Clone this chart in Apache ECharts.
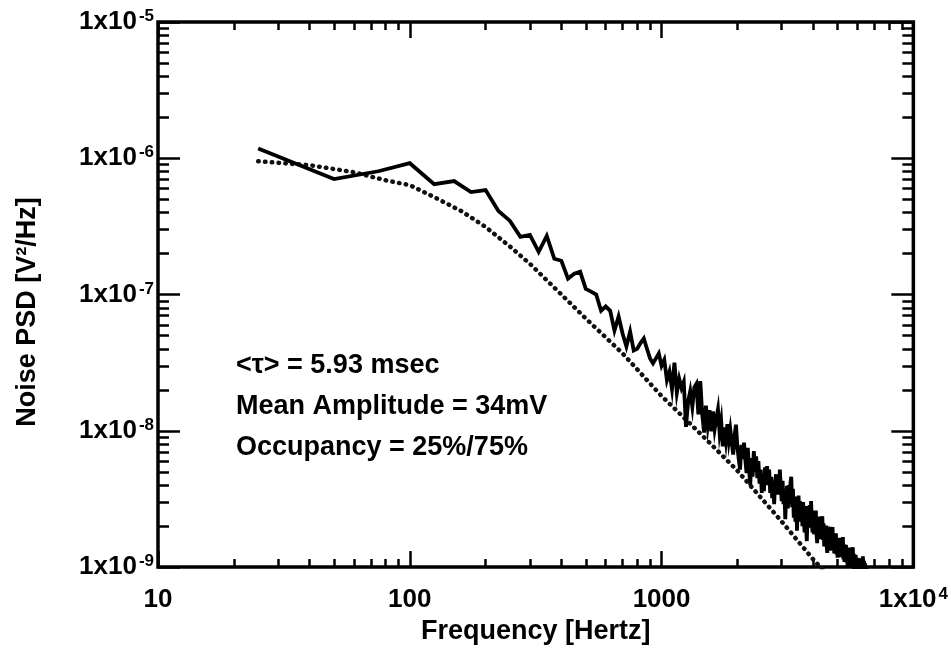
<!DOCTYPE html>
<html>
<head>
<meta charset="utf-8">
<script src="https://cdn.jsdelivr.net/npm/echarts@6/dist/echarts.min.js"></script>
<style>
  html, body { margin: 0; padding: 0; background: #fff; }
  #chart { width: 951px; height: 650px; }
</style>
</head>
<body>
<div id="chart"></div>
<script>
// ---------- data ----------
const freqHz = [
  25,50,75,100,125,150,175,200,225,250,275,300,325,350,375,400,425,450,475,500,
  525,550,575,600,625,650,675,700,725,750,775,800,825,850,875,900,925,950,975,1000,
  1025,1050,1075,1100,1125,1150,1175,1200,1225,1250,1275,1300,1325,1350,1375,1400,1425,1450,1475,1500,
  1525,1550,1575,1600,1625,1650,1675,1700,1725,1750,1775,1800,1825,1850,1875,1900,1925,1950,1975,2000,
  2025,2050,2075,2100,2125,2150,2175,2200,2225,2250,2275,2300,2325,2350,2375,2400,2425,2450,2475,2500,
  2525,2550,2575,2600,2625,2650,2675,2700,2725,2750,2775,2800,2825,2850,2875,2900,2925,2950,2975,3000,
  3025,3050,3075,3100,3125,3150,3175,3200,3225,3250,3275,3300,3325,3350,3375,3400,3425,3450,3475,3500,
  3525,3550,3575,3600,3625,3650,3675,3700,3725,3750,3775,3800,3825,3850,3875,3900,3925,3950,3975,4000,
  4025,4050,4075,4100,4125,4150,4175,4200,4225,4250,4275,4300,4325,4350,4375,4400,4425,4450,4475,4500,
  4525,4550,4575,4600,4625,4650,4675,4700,4725,4750,4775,4800,4825,4850,4875,4900,4925,4950,4975,5000,
  5025,5050,5075,5100,5125,5150,5175,5200,5225,5250,5275,5300,5325,5350,5375,5400,5425,5450,5475,5500,
  5525,5550,5575,5600,5625,5650,5675,5700,5725,5750,5775,5800,5825,5850,5875,5900,5925,5950,5975,6000,
  6025,6050,6075,6100,6125,6150,6175,6200,6225,6250,6275,6300,6325,6350,6375,6400,6425,6450,6475,6500,
  6525,6550,6575,6600
];
const measuredPSD = [
  1.18e-6,7.03e-7,8.03e-7,9.2e-7,6.46e-7,6.8e-7,5.65e-7,5.84e-7,4.1e-7,3.47e-7,2.65e-7,2.74e-7,2.06e-7,2.69e-7,1.83e-7,1.77e-7,1.31e-7,1.42e-7,1.47e-7,1.10e-7,
  1.05e-7,1.0e-7,7.6e-8,8.2e-8,7.6e-8,5.44e-8,6.9e-8,5.18e-8,4.16e-8,5.35e-8,3.89e-8,4.0e-8,4.4e-8,4.76e-8,4.0e-8,3.4e-8,3.13e-8,3.4e-8,3.7e-8,3.0e-8,
  3.32e-8,2.36e-8,2.72e-8,2.03e-8,3.16e-8,1.90e-8,2.41e-8,2.06e-8,2.29e-8,1.07e-8,1.64e-8,1.96e-8,1.50e-8,2.09e-8,2.21e-8,1.32e-8,2.32e-8,1.33e-8,9.7e-9,1.53e-8,
  1.10e-8,1.42e-8,9.9e-9,1.39e-8,1.03e-8,1.23e-8,1.44e-8,9.7e-9,1.17e-8,7.7e-9,1.06e-8,8.5e-9,1.12e-8,8.5e-9,1.02e-8,8.2e-9,6.7e-9,9.3e-9,1.11e-8,7.6e-9,
  6.2e-9,5.2e-9,7.9e-9,6.2e-9,8.2e-9,6.2e-9,4.9e-9,7.5e-9,5.3e-9,4.0e-9,6.3e-9,4.6e-9,7.1e-9,5.0e-9,6.5e-9,4.5e-9,6.0e-9,4.1e-9,5.2e-9,3.5e-9,
  4.7e-9,3.6e-9,5.4e-9,4.0e-9,5.5e-9,4.1e-9,5.2e-9,3.5e-9,4.6e-9,3.2e-9,4.1e-9,2.9e-9,4.2e-9,4.8e-9,3.4e-9,4.8e-9,3.4e-9,5.2e-9,3.9e-9,3.05e-9,
  4.3e-9,2.9e-9,3.6e-9,2.25e-9,3.3e-9,3.95e-9,2.7e-9,4.0e-9,2.95e-9,4.15e-9,4.6e-9,2.75e-9,3.75e-9,2.3e-9,3.05e-9,2.15e-9,3.3e-9,1.85e-9,2.85e-9,3.35e-9,
  2.15e-9,3.05e-9,2.25e-9,2.9e-9,2.0e-9,3.0e-9,2.15e-9,1.8e-9,2.8e-9,1.95e-9,1.55e-9,2.35e-9,2.8e-9,1.95e-9,2.85e-9,2.05e-9,3.05e-9,2.2e-9,1.8e-9,2.6e-9,
  1.74e-9,2.45e-9,1.85e-9,2.6e-9,1.74e-9,1.5e-9,2.28e-9,1.64e-9,2.35e-9,1.76e-9,2.35e-9,1.6e-9,2.12e-9,2.36e-9,1.58e-9,2.1e-9,1.42e-9,1.96e-9,1.5e-9,2.02e-9,
  1.43e-9,1.27e-9,1.74e-9,1.98e-9,1.44e-9,1.84e-9,1.32e-9,1.94e-9,1.44e-9,1.86e-9,1.97e-9,1.34e-9,1.72e-9,1.26e-9,1.72e-9,1.32e-9,1.77e-9,1.24e-9,1.62e-9,1.17e-9,
  1.60e-9,1.22e-9,1.64e-9,1.18e-9,1.58e-9,1.21e-9,1.62e-9,1.22e-9,1.49e-9,1.66e-9,1.14e-9,1.47e-9,1.09e-9,1.42e-9,1.13e-9,1.46e-9,1.08e-9,1.35e-9,1.04e-9,0.99e-9,
  1.35e-9,1.06e-9,1.39e-9,1.02e-9,1.34e-9,1.05e-9,1.37e-9,1.01e-9,1.25e-9,1.40e-9,0.99e-9,1.25e-9,0.95e-9,1.20e-9,0.98e-9,1.23e-9,0.92e-9,1.17e-9,0.92e-9,1.17e-9,
  0.89e-9,1.14e-9,0.86e-9,1.15e-9,0.89e-9,1.16e-9,0.86e-9,1.10e-9,0.89e-9,1.16e-9,0.86e-9,1.20e-9,1.09e-9,0.83e-9,1.11e-9,0.84e-9,1.07e-9,0.81e-9,1.03e-9,0.82e-9,
  1.02e-9,0.78e-9,0.95e-9,0.79e-9
];
const fitFreqHz = [25,40,60,80,100,130,160,200,250,300,400,500,700,1000,1500,2000,3000,4000,4500];
const fitPSD    = [9.5e-7,8.9e-7,7.9e-7,6.9e-7,6.35e-7,5.0e-7,4.1e-7,3.13e-7,2.25e-7,1.68e-7,1.0e-7,6.67e-8,3.7e-8,1.8e-8,8.7e-9,5.1e-9,2.16e-9,1.14e-9,9.0e-10];

const xTickLabels = ['10', '100', '1000', '1x10^4'];            // decades 10^1 .. 10^4
const yTickLabels = ['1x10^-9', '1x10^-8', '1x10^-7', '1x10^-6', '1x10^-5'];
const annotations = ['<τ> = 5.93 msec', 'Mean Amplitude = 34mV', 'Occupancy = 25%/75%'];
const xTitle = 'Frequency [Hertz]';
const yTitle = 'Noise PSD [V²/Hz]';

// ---------- chart ----------
const FONT = 'Liberation Sans';
const chart = echarts.init(document.getElementById('chart'), null, { renderer: 'canvas' });

function supLabel(lab) {
  const parts = lab.split('^');
  return parts[1] !== undefined ? '{b|' + parts[0] + '}{s|' + parts[1] + '}' : '{b|' + parts[0] + '}';
}
const richTick = {
  b: { fontSize: 26, fontWeight: 'bold', fontFamily: FONT, color: '#000', lineHeight: 28 },
  s: { fontSize: 17, fontWeight: 'bold', fontFamily: FONT, color: '#000', verticalAlign: 'top', lineHeight: 28, padding: [0, 0, 0, 2] }
};

// minor tick positions (in log10 units) for 2..9 within each decade
function minorLogTicks(d0, d1) {
  const out = [];
  for (let d = d0; d < d1; d++) for (let m = 2; m <= 9; m++) out.push(d + Math.log10(m));
  return out;
}
const xMinor = minorLogTicks(1, 4);
const yMinor = minorLogTicks(-9, -5);

const tickStyle = { color: '#000', width: 2.5 };
const hiddenBits = { axisLine: { show: false }, splitLine: { show: false }, axisLabel: { show: false } };

const option = {
  animation: false,
  backgroundColor: '#fff',
  grid: { left: 158, right: 34, top: 22, bottom: 81, show: true, borderColor: '#000', borderWidth: 3.5, backgroundColor: 'transparent' },
  xAxis: [
    { type: 'log', logBase: 10, min: 10, max: 10000, position: 'bottom',
      axisLine: { show: false }, splitLine: { show: false },
      axisTick: { show: true, inside: true, length: 16, lineStyle: tickStyle },
      axisLabel: { margin: 19, formatter: v => supLabel(xTickLabels[Math.round(Math.log10(v)) - 1]), rich: richTick },
      name: xTitle, nameLocation: 'middle', nameGap: 50,
      nameTextStyle: { fontSize: 27, fontWeight: 'bold', fontFamily: FONT, color: '#000' } },
    Object.assign({ type: 'value', min: 1, max: 4, position: 'bottom',
      axisTick: { show: true, inside: true, length: 8, lineStyle: tickStyle, customValues: xMinor } }, hiddenBits),
    Object.assign({ type: 'log', logBase: 10, min: 10, max: 10000, position: 'top',
      axisTick: { show: true, inside: true, length: 16, lineStyle: tickStyle } }, hiddenBits),
    Object.assign({ type: 'value', min: 1, max: 4, position: 'top',
      axisTick: { show: true, inside: true, length: 8, lineStyle: tickStyle, customValues: xMinor } }, hiddenBits)
  ],
  yAxis: [
    { type: 'log', logBase: 10, min: 1e-9, max: 1e-5, position: 'left',
      axisLine: { show: false }, splitLine: { show: false },
      axisTick: { show: true, inside: true, length: 22, lineStyle: tickStyle },
      axisLabel: { margin: 4, formatter: v => supLabel(yTickLabels[Math.round(Math.log10(v)) + 9]), rich: richTick } },
    Object.assign({ type: 'value', min: -9, max: -5, position: 'left',
      axisTick: { show: true, inside: true, length: 11, lineStyle: tickStyle, customValues: yMinor } }, hiddenBits),
    Object.assign({ type: 'log', logBase: 10, min: 1e-9, max: 1e-5, position: 'right',
      axisTick: { show: true, inside: true, length: 22, lineStyle: tickStyle } }, hiddenBits),
    Object.assign({ type: 'value', min: -9, max: -5, position: 'right',
      axisTick: { show: true, inside: true, length: 11, lineStyle: tickStyle, customValues: yMinor } }, hiddenBits)
  ],
  series: [
    { name: 'fit', type: 'line', xAxisIndex: 0, yAxisIndex: 0, showSymbol: false, symbol: 'none', clip: true,
      data: fitFreqHz.map((f, i) => [f, fitPSD[i]]),
      lineStyle: { color: '#111', width: 4.5, type: [0.5, 6.3], cap: 'round' } },
    { name: 'measured', type: 'line', xAxisIndex: 0, yAxisIndex: 0, showSymbol: false, symbol: 'none', clip: true,
      data: freqHz.map((f, i) => [f, measuredPSD[i]]),
      lineStyle: { color: '#000', width: 3.8, join: 'miter' } }
  ],
  graphic: [
    { type: 'text', x: 28, y: 312, rotation: Math.PI / 2,
      style: { text: yTitle, fill: '#000', fontSize: 27, fontWeight: 'bold', fontFamily: FONT, align: 'center', verticalAlign: 'middle' } }
  ].concat(annotations.map((t, i) => ({
    type: 'text', left: 236, top: 352 + i * 41,
    style: { text: t, fill: '#000', fontSize: 27, fontWeight: 'bold', fontFamily: FONT }
  })))
};
chart.setOption(option);
</script>
</body>
</html>
